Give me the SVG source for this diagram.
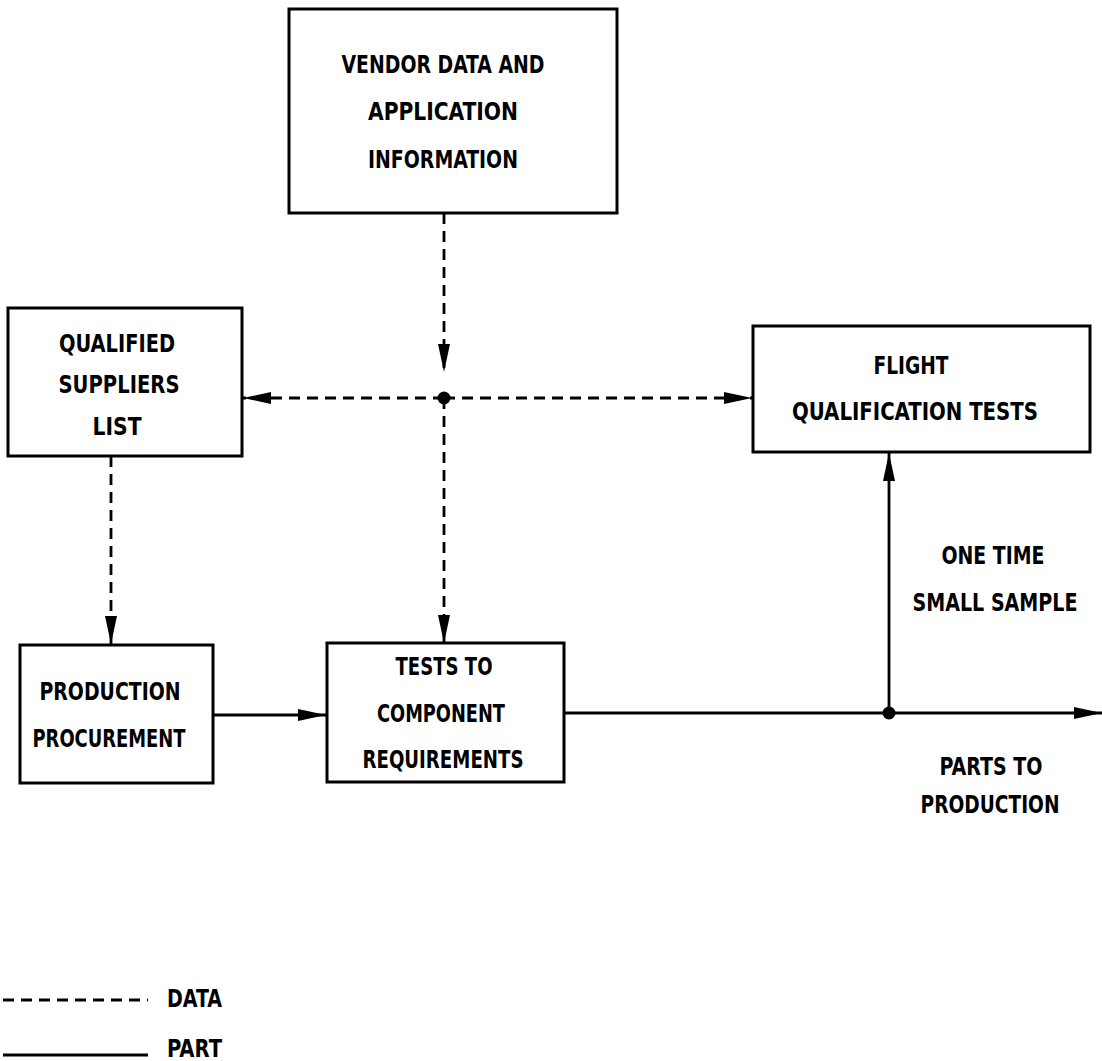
<svg xmlns="http://www.w3.org/2000/svg" width="1102" height="1061" viewBox="0 0 1102 1061">
<style>
.box{fill:#fff;stroke:#000;stroke-width:3}
.t{font-family:"Liberation Sans Narrow","DejaVu Sans Condensed","Liberation Sans",sans-serif;font-weight:bold;font-size:24px;fill:#000;text-anchor:middle}
.tl{font-family:"Liberation Sans Narrow","DejaVu Sans Condensed","Liberation Sans",sans-serif;font-weight:bold;font-size:24px;fill:#000}
.data{fill:none;stroke:#000;stroke-width:2.8;stroke-dasharray:11 7}
.part{fill:none;stroke:#000;stroke-width:2.8}
</style>
<defs>
<marker id="ah" markerUnits="userSpaceOnUse" markerWidth="29" markerHeight="13" refX="28" refY="6" orient="auto">
<path d="M0,0 L28,6 L0,12 z" fill="#000"/>
</marker>
</defs>
<rect width="1102" height="1061" fill="#fff"/>

<g id="connectors">
<line class="data" x1="444" y1="213" x2="444" y2="372" marker-end="url(#ah)"/>
<line class="data" x1="444" y1="398" x2="444" y2="643" marker-end="url(#ah)"/>
<line class="data" x1="444" y1="398" x2="243" y2="398" marker-end="url(#ah)"/>
<line class="data" x1="444" y1="398" x2="752" y2="398" marker-end="url(#ah)"/>
<circle cx="444" cy="398" r="6.5" fill="#000"/>
<line class="data" x1="111" y1="456" x2="111" y2="644" marker-end="url(#ah)"/>
<line class="part" x1="213" y1="715" x2="326" y2="715" marker-end="url(#ah)"/>
<line class="part" x1="564" y1="713" x2="1102" y2="713" marker-end="url(#ah)"/>
<line class="part" x1="889" y1="713" x2="889" y2="453" marker-end="url(#ah)"/>
<circle cx="889" cy="713" r="6.5" fill="#000"/>
</g>

<g id="vendor">
<rect class="box" x="289" y="9" width="328" height="204"/>
<text class="t" x="443" y="73" textLength="203" lengthAdjust="spacingAndGlyphs">VENDOR DATA AND</text>
<text class="t" x="443" y="120" textLength="150" lengthAdjust="spacingAndGlyphs">APPLICATION</text>
<text class="t" x="443" y="168" textLength="150" lengthAdjust="spacingAndGlyphs">INFORMATION</text>
</g>

<g id="qsl">
<rect class="box" x="8" y="308" width="234" height="148"/>
<text class="t" x="117" y="352" textLength="116" lengthAdjust="spacingAndGlyphs">QUALIFIED</text>
<text class="t" x="119" y="393" textLength="121" lengthAdjust="spacingAndGlyphs">SUPPLIERS</text>
<text class="t" x="117" y="435" textLength="49" lengthAdjust="spacingAndGlyphs">LIST</text>
</g>

<g id="flight">
<rect class="box" x="753" y="326" width="337" height="126"/>
<text class="t" x="911" y="374" textLength="75" lengthAdjust="spacingAndGlyphs">FLIGHT</text>
<text class="t" x="915" y="420" textLength="246" lengthAdjust="spacingAndGlyphs">QUALIFICATION TESTS</text>
</g>

<g id="procurement">
<rect class="box" x="20" y="645" width="193" height="138"/>
<text class="t" x="110" y="700" textLength="141" lengthAdjust="spacingAndGlyphs">PRODUCTION</text>
<text class="t" x="109" y="747" textLength="153" lengthAdjust="spacingAndGlyphs">PROCUREMENT</text>
</g>

<g id="tests">
<rect class="box" x="327" y="643" width="237" height="139"/>
<text class="t" x="444" y="675" textLength="97" lengthAdjust="spacingAndGlyphs">TESTS TO</text>
<text class="t" x="441" y="722" textLength="128" lengthAdjust="spacingAndGlyphs">COMPONENT</text>
<text class="t" x="443" y="768" textLength="161" lengthAdjust="spacingAndGlyphs">REQUIREMENTS</text>
</g>

<g id="labels">
<text class="t" x="993" y="564" textLength="103" lengthAdjust="spacingAndGlyphs">ONE TIME</text>
<text class="t" x="995" y="611" textLength="165" lengthAdjust="spacingAndGlyphs">SMALL SAMPLE</text>
<text class="t" x="991" y="775" textLength="103" lengthAdjust="spacingAndGlyphs">PARTS TO</text>
<text class="t" x="990" y="813" textLength="139" lengthAdjust="spacingAndGlyphs">PRODUCTION</text>
</g>

<g id="legend">
<line class="data" x1="3" y1="1000" x2="148" y2="1000" stroke-dasharray="10 8"/>
<text class="tl" x="167" y="1007" textLength="55" lengthAdjust="spacingAndGlyphs">DATA</text>
<line class="part" x1="3" y1="1055" x2="148" y2="1055"/>
<text class="tl" x="167" y="1057" textLength="55" lengthAdjust="spacingAndGlyphs">PART</text>
</g>
</svg>
